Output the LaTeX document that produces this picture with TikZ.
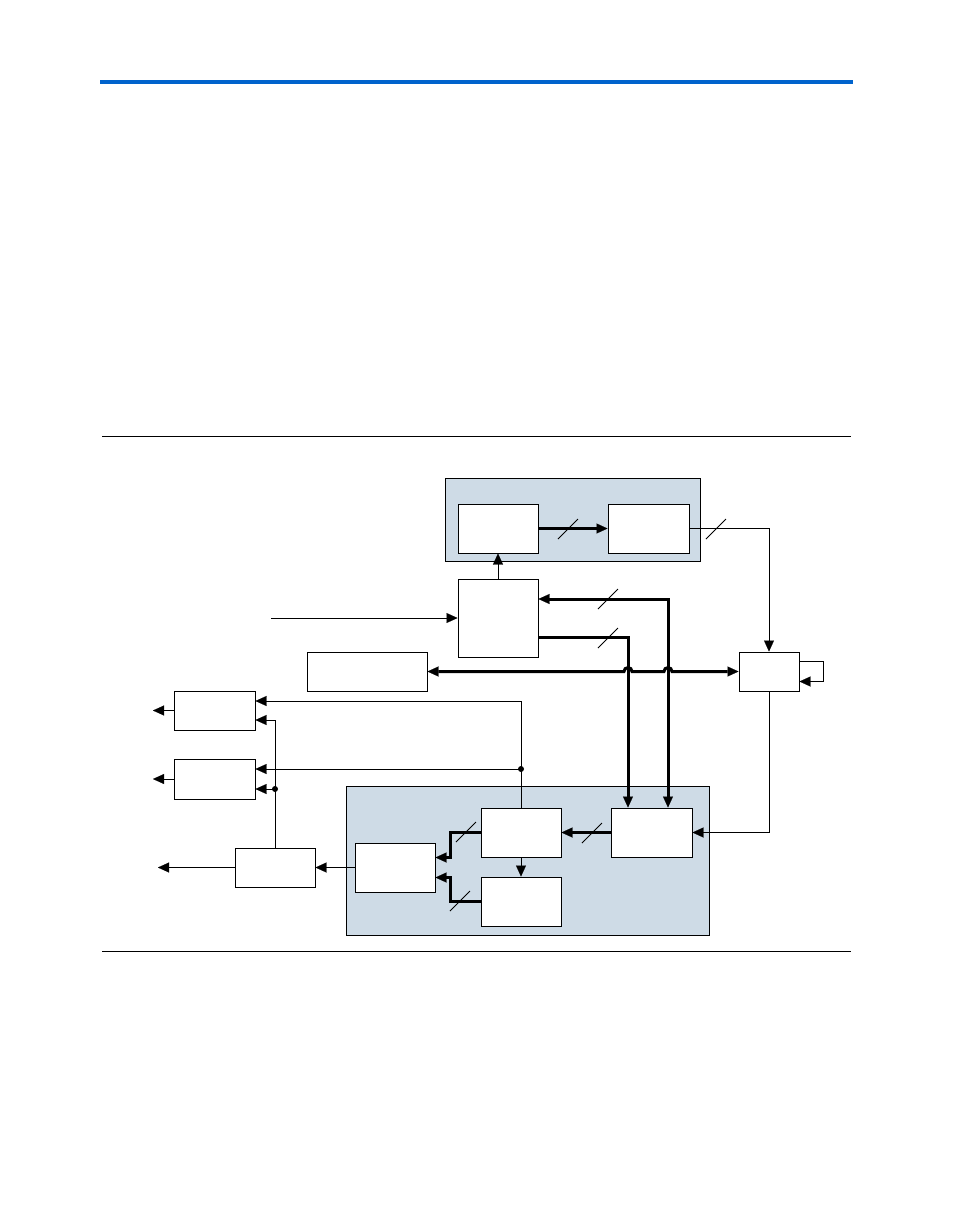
\documentclass[tikz,border=0pt]{standalone}
\usetikzlibrary{arrows.meta, calc}

\begin{document}
\begin{tikzpicture}[x=1pt, y=-1pt,
    >={Triangle[length=11pt, width=10pt, line width=0.1pt]},
    blk/.style={draw=borderColour, fill=white, line width=1pt, inner sep=0pt,
        minimum width=80pt, minimum height=49pt},
    sig/.style={line width=1pt},
    bus/.style={line width=3pt},
    frame/.style={fill=frameFill, draw=borderColour, line width=1pt}]
    % Define colours
    \definecolor{borderColour}{HTML}{000000}
    \definecolor{frameFill}{HTML}{CEDBE6}
    \definecolor{ruleBlue}{HTML}{0063CC}

    \useasboundingbox (0,0) rectangle (954,1227);

    % Page rules
    \draw[ruleBlue, line width=4pt] (100,82) -- (853,82);
    \draw[line width=0.8pt] (102,436) -- (851,436);
    \draw[line width=0.8pt] (102,951) -- (851,951);

    % Upper group
    \draw[frame] (445,478) rectangle (700,561);
    \node[blk] (enc) at (498,528.5) {};
    \node[blk, minimum width=81pt] (ser) at (648.5,528.5) {};

    % Middle blocks
    \node[blk, minimum height=78pt] (ctl) at (498,618) {};
    \node[blk, minimum width=120pt, minimum height=39pt] (cfg) at (367,671.5) {};
    \node[blk, minimum width=60pt, minimum height=39pt] (sw) at (769,671.5) {};

    % Lower group
    \draw[frame] (346,786) rectangle (709,935);
    \node[blk, minimum width=81pt] (dec) at (651.5,832.5) {};
    \node[blk] (fsm) at (521,832.5) {};
    \node[blk] (mux) at (521,901.5) {};
    \node[blk] (sel) at (395,867.5) {};

    % Output blocks
    \node[blk, minimum width=81pt, minimum height=39pt] (outA) at (214.5,710.5) {};
    \node[blk, minimum width=81pt, minimum height=40pt] (outB) at (214.5,779) {};
    \node[blk, minimum height=39pt] (drv) at (275,867.5) {};

    % Free ends
    \coordinate (in) at (271,618);
    \coordinate (exA) at (153,710.5);
    \coordinate (exB) at (153,779);
    \coordinate (exC) at (158,867.5);

    % Taps on the right of the output blocks
    \path ([yshift=9.5pt]outA.east) coordinate (outA1)
          ([yshift=-9.5pt]outA.east) coordinate (outA2)
          ([yshift=10pt]outB.east) coordinate (outB1)
          ([yshift=-10pt]outB.east) coordinate (outB2);

    % Upper connections
    \draw[bus,->] (enc.east) -- (ser.west);
    \draw[sig,->] (ser.east) -| (sw.north);
    \draw[sig,->] (ctl.north) -- (enc.south);
    \draw[sig,->] (in) -- (ctl.west);
    \draw[bus,<->] ([yshift=19pt]ctl.east) -| ([xshift=16.5pt]dec.north);
    \draw[bus,->] ([yshift=-19pt]ctl.east) -| ([xshift=-23.5pt]dec.north);

    % Bus with hops over the verticals
    \draw[bus,<->] (cfg.east) -- (cfg.east -| 624,0) arc (180:360:4)
        -- (cfg.east -| 664,0) arc (180:360:4) -- (sw.west);
    \draw[sig,->] ([yshift=10pt]sw.east) -- ++(24,0) |- ([yshift=-10pt]sw.east);
    \draw[sig,->] (sw.south) |- (dec.east);

    % Lower connections
    \draw[bus,->] (dec.west) -- (fsm.east);
    \draw[sig,->] (fsm.south) -- (mux.north);
    \draw[bus,->] (fsm.west) -- ++(-30,0) |- ([yshift=10pt]sel.east);
    \draw[bus,->] (mux.west) -- ++(-30,0) |- ([yshift=-10pt]sel.east);
    \draw[sig,->] (sel.west) -- (drv.east);

    % Fan-out to the output blocks
    \draw[sig,->] (fsm.north) |- (outA1);
    \draw[sig,->] (fsm.north |- outB1) -- (outB1);
    \fill (fsm.north |- outB1) circle (3);
    \draw[sig,->] (drv.north) |- (outA2);
    \draw[sig,->] (drv.north |- outB2) -- (outB2);
    \fill (drv.north |- outB2) circle (3);

    % Outputs
    \draw[sig,->] (outA.west) -- (exA);
    \draw[sig,->] (outB.west) -- (exB);
    \draw[sig,->] (drv.west) -- (exC);

    % Bus width marks
    \foreach \p in {(568,529), (716,529), (608,599), (608,638),
                    (592,833), (466,832), (460,901)}
        \draw[line width=0.8pt] \p ++(-10,10) -- ++(20,-20);

\end{tikzpicture}
\end{document}
